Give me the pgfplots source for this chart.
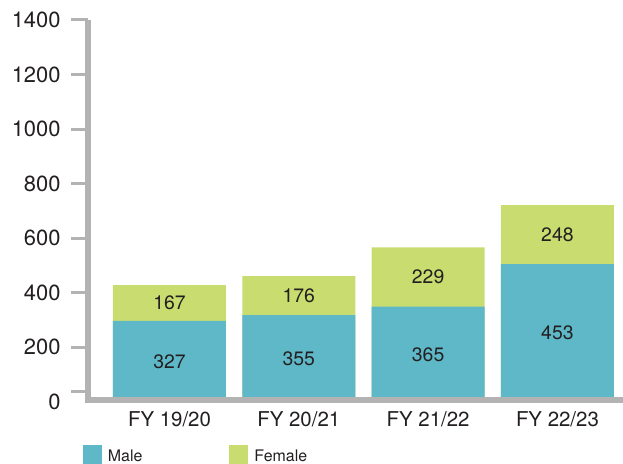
\documentclass[border=0pt]{standalone}
\usepackage{pgfplots}
\pgfplotsset{compat=1.18}
\usepackage{pgfplotstable}
\usepackage{fontspec}
\setmainfont{TeX Gyre Heros}
\definecolor{male}{HTML}{5EB8C8}
\definecolor{female}{HTML}{C8DC6F}
\definecolor{axisgrey}{HTML}{B3B3B3}
\definecolor{txt}{HTML}{231F20}
\pgfplotstableread{
x m t ml fl
0 296.6 428.5 327 167
1 318.5 461.5 355 176
2 349.0 566.7 365 229
3 505.5 721.8 453 248
}\data
\begin{document}
\begin{tikzpicture}
\begin{axis}[at={(0,0)}, anchor=south west, scale only axis,
  width=535bp, height=381.9bp,
  xmin=-0.630, xmax=3.507, ymin=0, ymax=1400, clip=false,
  axis lines=left, axis line style={draw=none,-},
  ytick={37.4,200,400,600,800,1000,1200,1400},
  yticklabels={,200,400,600,800,1000,1200,1400},
  extra y ticks={0}, extra y tick labels={0},
  extra y tick style={tick style={draw=none}},
  tick align=outside, major tick length=17bp,
  ytick style={axisgrey, line width=3bp},
  xtick={0,1,2,3},
  xticklabels={FY 19/20,FY 20/21,FY 21/22,FY 22/23},
  xtick style={draw=none},
  yticklabel style={font=\fontsize{22}{24}\selectfont, text=txt, inner sep=0pt, anchor=east, xshift=-10.3bp},
  xticklabel style={font=\fontsize{20.5}{23}\selectfont, text=txt, inner sep=0pt, anchor=north, yshift=7.2bp},
  /pgf/number format/assume math mode=true,
  legend columns=2,
  legend style={at={(-0.0099,-0.1129)}, anchor=north west, draw=none, fill=none,
    inner sep=0pt, font=\fontsize{16}{18}\selectfont, text=txt,
    nodes={inner sep=0pt},
    column sep=6bp, /tikz/every even column/.append style={column sep=87bp}},
  legend image code/.code={\fill[#1] (0bp,-7.45bp) rectangle (19bp,11.55bp);},
]
\addplot[ybar, bar width=0.874, bar shift=0pt, fill=female, draw=none, forget plot]
  table[x=x, y=t]{\data};
\addplot[ybar, bar width=0.874, bar shift=0pt, fill=male, draw=none, forget plot]
  table[x=x, y=m]{\data};
\addplot[draw=none, mark=none, forget plot, nodes near coords, nodes near coords align=center,
  point meta=explicit symbolic,
  every node near coord/.append style={font=\fontsize{19.5}{22}\selectfont, text=txt}]
  table[x=x, y expr=\thisrow{m}/2, meta=ml]{\data};
\addplot[draw=none, mark=none, forget plot, nodes near coords, nodes near coords align=center,
  point meta=explicit symbolic,
  every node near coord/.append style={font=\fontsize{19.5}{22}\selectfont, text=txt}]
  table[x=x, y expr=(\thisrow{m}+\thisrow{t})/2, meta=fl]{\data};
\addlegendimage{fill=male, draw=none}
\addlegendentry{Male}
\addlegendimage{fill=female, draw=none}
\addlegendentry{Female}
\end{axis}
\fill[axisgrey] (-3.25bp,-1.4bp) rectangle (3.25bp,381.9bp);
\fill[axisgrey] (-3.25bp,-1.4bp) rectangle (535bp,5.2bp);
\pgfresetboundingbox
\path[use as bounding box] (-88bp,-62.1bp) rectangle (535bp,401.9bp);
\end{tikzpicture}
\end{document}
